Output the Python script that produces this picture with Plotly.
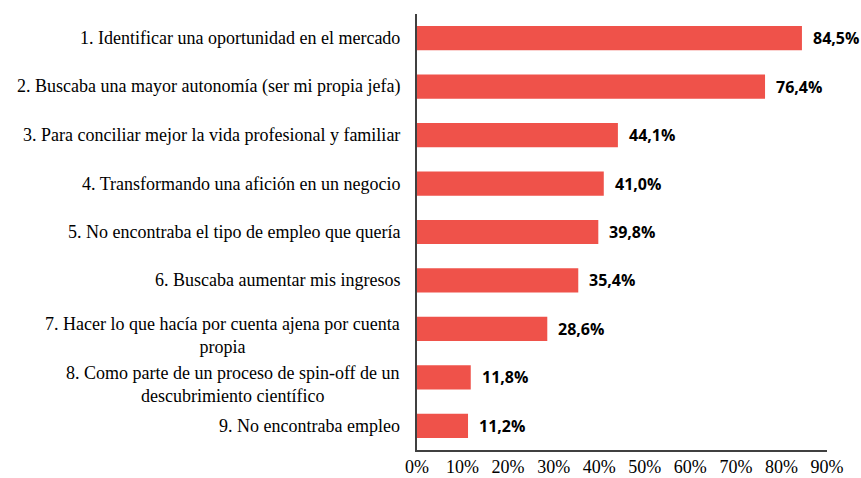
import plotly.graph_objects as go

categories = [
    "1. Identificar una oportunidad en el mercado",
    "2. Buscaba una mayor autonomía (ser mi propia jefa)",
    "3. Para conciliar mejor la vida profesional y familiar",
    "4. Transformando una afición en un negocio",
    "5. No encontraba el tipo de empleo que quería",
    "6. Buscaba aumentar mis ingresos",
    "7. Hacer lo que hacía por cuenta ajena por cuenta<br>propia",
    "8. Como parte de un proceso de spin-off de un<br>descubrimiento científico",
    "9. No encontraba empleo",
]
values = [84.5, 76.4, 44.1, 41.0, 39.8, 35.4, 28.6, 11.8, 11.2]
x_ticks = [0, 10, 20, 30, 40, 50, 60, 70, 80, 90]
x_ticklabels = [f"{t}%" for t in x_ticks]

bar_color = "#EF524A"
serif = "Liberation Serif, Times New Roman, serif"

fig = go.Figure(go.Bar(
    y=categories,
    x=values,
    orientation="h",
    marker=dict(color=bar_color, line=dict(width=0)),
    width=0.5,
    hoverinfo="skip",
))

annotations = []
for c, v in zip(categories, values):
    annotations.append(dict(
        x=v, y=c, xref="x", yref="y", xanchor="left", yanchor="middle",
        xshift=9, showarrow=False,
        text=f"{v:.1f}".replace(".", ",") + "%",
        font=dict(family="Open Sans", size=16, color="black", weight="bold"),
    ))
    multi = "<br>" in c
    annotations.append(dict(
        x=0, y=c, xref="paper", yref="y", xanchor="right", yanchor="middle",
        xshift=-15, yshift=-7 if multi else 0,
        showarrow=False, align="center",
        text=c,
        font=dict(family=serif, size=18, color="black"),
    ))

fig.update_layout(
    width=861, height=478,
    margin=dict(l=417, r=34, t=14, b=28, autoexpand=False),
    plot_bgcolor="white", paper_bgcolor="white",
    showlegend=False,
    bargap=0.5,
    annotations=annotations,
    xaxis=dict(
        range=[0, 90], tickvals=x_ticks, ticktext=x_ticklabels,
        showgrid=False, zeroline=False, automargin=False,
        showline=True, linecolor="#404040", linewidth=1.5,
        ticks="",
        tickfont=dict(family=serif, size=18, color="black"),
        fixedrange=True,
    ),
    yaxis=dict(
        categoryorder="array", categoryarray=categories[::-1],
        showticklabels=False, showgrid=False, zeroline=False, automargin=False,
        showline=True, linecolor="#404040", linewidth=1.5,
        ticks="", fixedrange=True,
    ),
)

fig.write_html(
    "out.html",
    config={"displayModeBar": False},
    post_script="document.body.style.margin='0';document.body.style.overflow='hidden';",
)
